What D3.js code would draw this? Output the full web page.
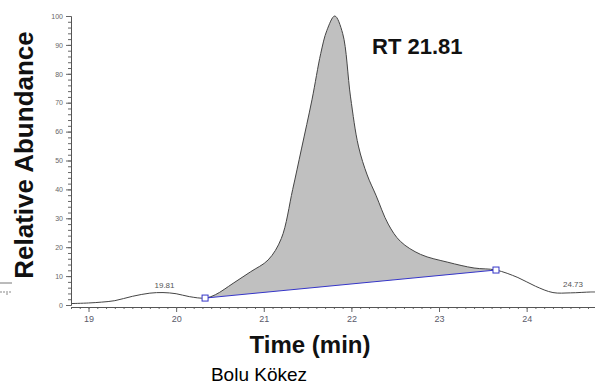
<!DOCTYPE html>
<html>
<head>
<meta charset="utf-8">
<script src="https://cdn.jsdelivr.net/npm/d3@7"></script>
<style>
    body { margin: 0; background: #fff; }
    svg { display: block; font-family: Arial, "Liberation Sans", sans-serif; }
</style>
</head>
<body>
<svg id="chart"></svg>
<script>
var times = [18.8, 19.0, 19.15, 19.3, 19.5, 19.7, 19.85, 20.0, 20.15, 20.33, 20.45, 20.65,
    20.85, 21.05, 21.2, 21.33, 21.43, 21.55, 21.65, 21.72, 21.81, 21.9, 21.99, 22.08,
    22.18, 22.28, 22.42, 22.56, 22.79, 23.1, 23.4, 23.65, 23.9, 24.1, 24.3, 24.5, 24.73, 24.8];
var abundance = [0.5, 0.7, 1.0, 1.5, 3.0, 4.1, 4.3, 3.9, 2.9, 2.4, 3.6, 7.5,
    11.5, 15.6, 23, 40, 54, 71, 87, 95, 100, 94, 72, 55,
    45, 38, 28, 22, 17.5, 14.8, 12.8, 12.1, 9.5, 6.5, 4.3, 4.2, 4.5, 4.5];
var baselineTimes = [20.33, 23.65];
var baselineValues = [2.4, 12.1];
var peakLabels = [[19.81, 4.3], [24.73, 4.5]];
var xTicks = [19, 20, 21, 22, 23, 24];
var yTicks = [0, 10, 20, 30, 40, 50, 60, 70, 80, 90, 100];

var chart = (function() {

    var width = 595,
        height = 389;

    var svg = d3.select("#chart").attr("width", width).attr("height", height);

    var x = d3.scaleLinear().domain([18.8, 24.78]).range([71, 595]);
    var y = d3.scaleLinear().domain([0, 100]).range([305, 16]);

    var pts = d3.zip(times, abundance);
    var base = d3.scaleLinear().domain(baselineTimes).range(baselineValues);

    // shaded integrated area
    var inPeak = pts.filter(function(d) {
        return d[0] >= baselineTimes[0] && d[0] <= baselineTimes[1];
    });
    svg.append("path")
        .datum(inPeak)
        .attr("fill", "#c0c0c0")
        .attr("d", d3.area()
            .curve(d3.curveCatmullRom)
            .x(function(d) { return x(d[0]); })
            .y0(function(d) { return y(base(d[0])); })
            .y1(function(d) { return y(d[1]); }));

    svg.append("path")
        .datum(pts)
        .attr("fill", "none")
        .attr("stroke", "#444")
        .attr("stroke-width", 1)
        .attr("d", d3.line()
            .curve(d3.curveCatmullRom)
            .x(function(d) { return x(d[0]); })
            .y(function(d) { return y(d[1]); }));

    // baseline with markers
    var bl = d3.zip(baselineTimes, baselineValues);
    svg.append("path")
        .datum(bl)
        .attr("stroke", "#3535c8")
        .attr("stroke-width", 1)
        .attr("d", d3.line()
            .x(function(d) { return x(d[0]); })
            .y(function(d) { return y(d[1]); }));
    svg.selectAll("rect.mk").data(bl).enter()
        .append("rect")
        .attr("class", "mk")
        .attr("x", function(d) { return x(d[0]) - 3; })
        .attr("y", function(d) { return y(d[1]) - 3; })
        .attr("width", 6)
        .attr("height", 6)
        .attr("fill", "#fff")
        .attr("stroke", "#3535c8");

    // y axis, minor every 2 then major every 10
    var yMinor = svg.append("g").attr("transform", "translate(71,0)")
        .call(d3.axisLeft(y).tickValues(d3.range(0, 101, 2)).tickSize(3).tickFormat("").tickSizeOuter(0));
    var yMajor = svg.append("g").attr("transform", "translate(71,0)")
        .call(d3.axisLeft(y).tickValues(yTicks).tickSize(5).tickPadding(3).tickSizeOuter(0));
    [yMinor, yMajor].forEach(function(g) {
        g.select(".domain").attr("stroke", "#555");
        g.selectAll("line").attr("stroke", "#666");
    });
    yMajor.selectAll("text").attr("font-size", 7).attr("fill", "#666")
        .attr("font-family", "Arial, sans-serif");

    // x axis
    var xMinor = svg.append("g").attr("transform", "translate(0,307)")
        .call(d3.axisBottom(x).tickValues(d3.range(188, 248).map(function(d) { return d / 10; }))
            .tickSize(2).tickFormat("").tickSizeOuter(0));
    var xMajor = svg.append("g").attr("transform", "translate(0,307)")
        .call(d3.axisBottom(x).tickValues(xTicks).tickSize(5).tickPadding(4)
            .tickFormat(d3.format("d")).tickSizeOuter(0));
    [xMinor, xMajor].forEach(function(g) {
        g.select(".domain").attr("stroke", "#555");
        g.selectAll("line").attr("stroke", "#666");
    });
    xMajor.selectAll("text").attr("font-size", 9).attr("fill", "#5a5a6a")
        .attr("font-family", "Arial, sans-serif");

    // peak labels
    svg.selectAll("text.pk").data(peakLabels).enter()
        .append("text")
        .attr("class", "pk")
        .attr("x", function(d) { return Math.min(x(d[0]) + 5, width - 22); })
        .attr("y", function(d) { return y(d[1]) - 5; })
        .attr("text-anchor", "middle")
        .attr("font-size", 8)
        .attr("fill", "#555")
        .text(function(d) { return d3.format(".2f")(d[0]); });

    svg.append("text")
        .attr("x", 372).attr("y", 54)
        .attr("font-size", 22).attr("font-weight", "bold").attr("fill", "#111")
        .text("RT 21.81");

    svg.append("text")
        .attr("transform", "translate(33,155) rotate(-90)")
        .attr("text-anchor", "middle")
        .attr("font-size", 26).attr("font-weight", "bold").attr("fill", "#111")
        .text("Relative Abundance");

    svg.append("text")
        .attr("x", 310).attr("y", 353)
        .attr("text-anchor", "middle")
        .attr("font-size", 24).attr("font-weight", "bold").attr("fill", "#111")
        .text("Time (min)");

    svg.append("text")
        .attr("x", 259).attr("y", 381)
        .attr("text-anchor", "middle")
        .attr("font-size", 19).attr("fill", "#000")
        .text("Bolu Kökez");

    // cropped fragment at far left
    svg.append("line").attr("x1", 0).attr("x2", 12).attr("y1", 283).attr("y2", 283)
        .attr("stroke", "#777");
    svg.append("g").selectAll("line").data([1, 4, 7, 10]).enter()
        .append("line")
        .attr("x1", function(d) { return d; }).attr("x2", function(d) { return d; })
        .attr("y1", 291).attr("y2", function(d) { return d == 7 ? 295 : 293; })
        .attr("stroke", "#888");

    return svg;
})();
</script>
</body>
</html>
